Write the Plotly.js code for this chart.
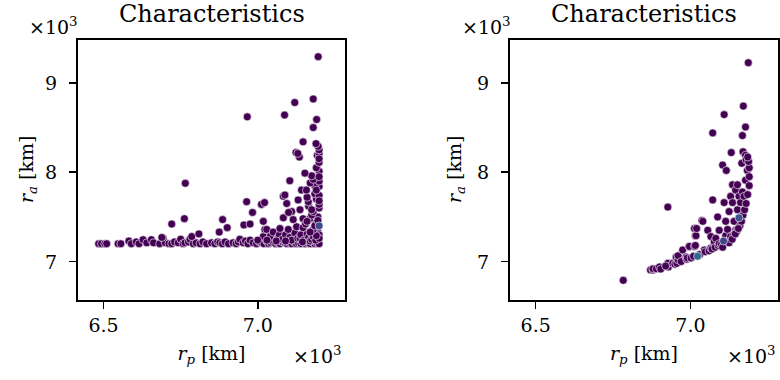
<!DOCTYPE html>
<html><head><meta charset="utf-8">
<script src="https://cdn.plot.ly/plotly-3.0.1.min.js"></script>
<style>html,body{margin:0;padding:0;background:#fff}</style>
</head><body><div id="chart" style="width:780px;height:380px"></div>
<script>
// values in units of 10^3 km: [r_p, r_a]
const leftPoints = [
[6.484,7.20],[6.493,7.20],[6.504,7.20],[6.510,7.20],[6.547,7.20],[6.556,7.20],[6.582,7.23],[6.590,7.20],[6.606,7.22],[6.615,7.20],
[6.628,7.245],[6.640,7.21],[6.655,7.245],[6.662,7.21],[6.682,7.20],[6.693,7.26],[6.700,7.21],[6.712,7.20],[6.721,7.20],[6.730,7.22],
[6.742,7.21],[6.750,7.25],[6.758,7.20],[6.764,7.21],[6.775,7.22],[6.780,7.25],[6.791,7.20],[6.800,7.21],[6.813,7.20],[6.822,7.22],
[6.834,7.20],[6.850,7.21],[6.861,7.20],[6.870,7.22],[6.877,7.21],[6.885,7.20],[6.894,7.22],[6.905,7.20],[6.920,7.21],[6.930,7.20],
[6.937,7.22],[6.942,7.25],[6.953,7.21],[6.960,7.23],[6.968,7.20],[6.975,7.24],[6.985,7.21],[6.996,7.20],[7.005,7.22],[7.013,7.21],
[7.020,7.20],[7.029,7.23],[7.035,7.20],[7.042,7.21],[7.050,7.22],[7.058,7.20],[7.065,7.21],[7.072,7.20],[7.080,7.22],[7.088,7.21],
[7.095,7.20],[7.103,7.21],[7.110,7.20],[7.118,7.22],[7.125,7.20],[7.132,7.21],[7.140,7.20],[7.148,7.22],[7.155,7.20],[7.162,7.21],
[7.170,7.20],[7.178,7.22],[7.185,7.20],[7.192,7.21],[7.199,7.20],
[6.689,7.27],[6.786,7.28],[6.809,7.31],[6.875,7.33],[6.901,7.38],[6.955,7.41],[6.975,7.42],[7.018,7.28],[7.023,7.36],[7.029,7.36],
[7.040,7.28],[7.050,7.33],[7.066,7.27],[7.070,7.30],[7.080,7.25],[7.090,7.30],[7.104,7.27],[7.110,7.24],[7.120,7.32],[7.130,7.26],
[7.137,7.26],[7.140,7.30],[7.150,7.24],[7.160,7.31],[7.165,7.27],[7.170,7.23],[7.175,7.25],[7.180,7.28],[7.188,7.24],[7.195,7.33],
[7.199,7.30],[7.199,7.26],[7.060,7.23],[7.030,7.24],[7.000,7.24],[7.090,7.23],[7.145,7.22],[7.190,7.29],
[6.721,7.42],[6.762,7.48],[6.765,7.876],[6.886,7.47],[6.964,7.67],[6.983,7.55],[7.012,7.64],[7.022,7.66],[7.018,7.45],[7.072,7.37],
[7.099,7.36],[7.126,7.39],[7.147,7.38],[7.180,7.36],[7.190,7.44],[7.083,7.49],[7.115,7.47],[7.147,7.48],[7.169,7.48],[7.195,7.50],
[7.155,7.42],[7.175,7.52],[7.110,7.56],[7.100,7.55],[7.137,7.58],[7.180,7.56],[7.199,7.60],[7.165,7.62],[7.094,7.65],[7.131,7.69],
[7.164,7.67],[7.199,7.64],[7.190,7.70],[7.083,7.73],[7.088,7.745],[7.160,7.72],[7.185,7.76],[7.199,7.74],[7.142,7.80],[7.158,7.80],
[7.199,7.84],[7.185,7.85],[7.170,7.88],[7.104,7.905],[7.199,7.90],[7.180,7.92],[7.175,7.96],[7.153,7.99],[7.199,8.01],[7.190,8.05],
[7.199,8.11],[7.135,8.17],[7.193,8.19],[7.124,8.22],[7.130,8.21],[7.199,8.21],[7.199,8.25],[7.196,8.29],[7.189,8.32],[7.147,8.34],
[7.180,8.50],[7.191,8.59],[7.087,8.64],[6.966,8.62],[7.120,8.78],[7.180,8.82],[7.196,9.293],
[7.185,7.40],[7.170,7.33],[7.160,7.45],[7.195,7.46],[7.175,7.58],[7.199,7.68],[7.190,7.80],[7.199,7.95],[7.199,8.15]
];
const leftHighlight = [[7.199,7.40]];
const leftHighlightColors = ['#3e4a89'];

const rightPoints = [
[6.783,6.79],[6.871,6.905],[6.879,6.905],[6.879,6.92],[6.890,6.92],[6.900,6.94],[6.904,6.916],[6.927,6.98],[6.929,6.94],[6.920,6.95],
[6.943,6.98],[6.950,6.97],[6.954,7.05],[6.956,6.98],[6.960,7.02],[6.960,7.065],[6.970,7.00],[6.975,7.13],[6.986,7.05],[6.988,7.025],
[6.990,7.04],[6.995,7.17],[6.997,7.17],[7.002,7.04],[7.010,7.06],[7.013,7.17],[7.013,7.37],[7.016,7.18],[7.016,7.29],[7.018,7.29],
[7.020,7.37],[7.030,7.08],[7.037,7.46],[7.040,7.45],[7.045,7.13],[7.048,7.11],[7.056,7.35],[7.060,7.12],[7.066,7.15],[7.066,7.28],
[7.070,7.14],[7.072,7.69],[7.072,8.44],[7.077,7.22],[7.080,7.16],[7.082,7.26],[7.088,7.50],[7.090,7.18],[7.093,7.20],[7.093,7.35],
[7.100,7.19],[7.104,8.08],[7.109,7.66],[7.109,8.645],[7.110,7.21],[7.114,7.29],[7.114,7.45],[7.116,8.02],[7.120,7.23],[7.120,7.36],
[7.125,7.56],[7.130,7.26],[7.130,7.28],[7.130,7.73],[7.132,8.22],[7.136,7.66],[7.136,7.86],[7.140,7.30],[7.141,7.45],[7.146,7.35],
[7.146,7.80],[7.150,7.34],[7.152,7.58],[7.152,7.86],[7.157,7.73],[7.160,7.40],[7.162,7.66],[7.165,7.45],[7.166,8.10],[7.168,7.78],
[7.168,8.41],[7.170,7.52],[7.170,8.23],[7.171,8.74],[7.173,7.73],[7.175,7.58],[7.178,7.91],[7.178,8.19],[7.178,8.506],[7.180,7.65],
[7.180,8.14],[7.184,8.02],[7.185,7.75],[7.187,9.226],[7.190,7.85],[7.190,7.95],[7.190,8.05],[7.188,8.12],[7.185,8.17],[6.927,7.61],
[7.104,7.16],[7.125,7.21],[7.135,7.25],[7.145,7.31],[7.155,7.37]
];
const rightHighlight = [[7.157,7.49],[7.107,7.23],[7.023,7.06]];
const rightHighlightColors = ['#3b528b','#414487','#31688e'];

const xTickVals = [6.5, 7.0];
const xTickText = ['6.5', '7.0'];
const yTickVals = [7, 8, 9];
const yTickText = ['7', '8', '9'];
const xRange = [6.417, 7.283];
const yRange = [6.57, 9.48];
const panelTitle = 'Characteristics';
const xLabel = '<i>r</i><sub><i>p</i></sub> [km]';
const yLabel = '<i>r</i><sub><i>a</i></sub> [km]';
const offsetText = '×10<sup>3</sup>';

const mainColor = '#440154';
const FONT = 'DejaVu Serif';

function scatter(points, colors, xa, ya) {
  return {
    type: 'scatter', mode: 'markers',
    x: points.map(p => p[0]), y: points.map(p => p[1]),
    xaxis: xa, yaxis: ya, hoverinfo: 'skip', showlegend: false,
    marker: {size: 8, color: colors, line: {color: '#fff', width: 0.6}}
  };
}

const data = [
  scatter(leftPoints, mainColor, 'x', 'y'),
  scatter(leftHighlight, leftHighlightColors, 'x', 'y'),
  scatter(rightPoints, mainColor, 'x2', 'y2'),
  scatter(rightHighlight, rightHighlightColors, 'x2', 'y2')
];

const axisBase = {
  showline: true, mirror: true, linecolor: '#000', linewidth: 1.8,
  ticks: 'outside', ticklen: 7, tickwidth: 1.6, tickcolor: '#000',
  showgrid: false, zeroline: false, fixedrange: true,
  tickfont: {family: FONT, size: 19, color: '#000'}
};
function xAxis(domain, anchor) {
  return Object.assign({}, axisBase, {
    domain: domain, anchor: anchor, range: xRange,
    tickmode: 'array', tickvals: xTickVals, ticktext: xTickText,
    title: {text: xLabel, font: {family: FONT, size: 19, color: '#000'}, standoff: 12}
  });
}
// y tick labels are drawn as annotations on the y scale (placed further from the axis, as in the reference)
function yAxis(anchor) {
  return Object.assign({}, axisBase, {
    domain: [0, 1], anchor: anchor, range: yRange,
    tickmode: 'array', tickvals: yTickVals, showticklabels: false
  });
}

const W = 700, H = 260;
const leftDom = [0, 267 / W];
const rightDom = [432 / W, 1];
function ann(text, x, y, xanchor, yanchor, size, angle, yref) {
  return {text: text, xref: 'paper', yref: yref || 'paper', x: x, y: y, xanchor: xanchor, yanchor: yanchor,
    textangle: angle || 0, showarrow: false, font: {family: FONT, size: size, color: '#000'}};
}
const yTickAnns = [];
yTickVals.forEach((v, i) => {
  yTickAnns.push(ann(yTickText[i], -19 / W, v, 'right', 'middle', 19, 0, 'y'));
  yTickAnns.push(ann(yTickText[i], 413 / W, v, 'right', 'middle', 19, 0, 'y2'));
});

const layout = {
  width: 780, height: 380,
  margin: {l: 78, r: 2, t: 40, b: 80},
  paper_bgcolor: '#fff', plot_bgcolor: '#fff',
  xaxis: xAxis(leftDom, 'y'), yaxis: yAxis('x'),
  xaxis2: xAxis(rightDom, 'y2'), yaxis2: yAxis('x2'),
  annotations: [
    ann(panelTitle, (leftDom[0] + leftDom[1]) / 2, 1.04, 'center', 'bottom', 24),
    ann(panelTitle, (rightDom[0] + rightDom[1]) / 2, 1.04, 'center', 'bottom', 24),
    ann(yLabel, -51 / W, 0.5, 'center', 'middle', 19, -90),
    ann(yLabel, 377 / W, 0.5, 'center', 'middle', 19, -90),
    ann(offsetText, -51 / W, 1.0, 'left', 'bottom', 19),
    ann(offsetText, 382 / W, 1.0, 'left', 'bottom', 19),
    ann(offsetText, 266 / W, -0.265, 'right', 'bottom', 19),
    ann(offsetText, 1.0, -0.265, 'right', 'bottom', 19)
  ].concat(yTickAnns)
};

Plotly.newPlot('chart', data, layout, {displayModeBar: false, staticPlot: true});
</script></body></html>
